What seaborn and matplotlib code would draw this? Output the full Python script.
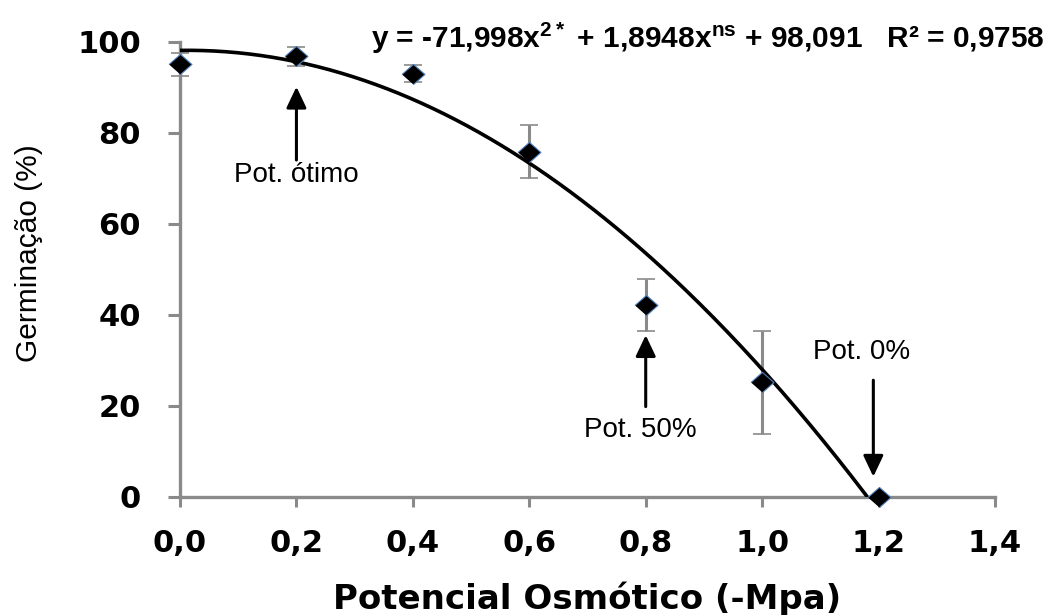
import numpy as np
import pandas as pd
import matplotlib
matplotlib.use("Agg")
import matplotlib.pyplot as plt
import seaborn as sns

# ---- data ----
potencial = [0.0, 0.2, 0.4, 0.6, 0.8, 1.0, 1.2]
germinacao = [95.0, 96.8, 93.0, 75.8, 42.1, 25.1, 0.0]
erro = [2.5, 2.1, 1.8, 5.85, 5.7, 11.3, 0.0]
coef = [-71.998, 1.8948, 98.091]  # quadratic fit shown in the equation
x_ticks = [0.0, 0.2, 0.4, 0.6, 0.8, 1.0, 1.2, 1.4]
x_labels = ["0,0", "0,2", "0,4", "0,6", "0,8", "1,0", "1,2", "1,4"]
y_ticks = [0, 20, 40, 60, 80, 100]

sns.set_theme(style="white")
plt.rcParams["mathtext.fontset"] = "custom"
plt.rcParams["mathtext.rm"] = "Liberation Sans:bold"

fig = plt.figure(figsize=(10.56, 6.15), dpi=100)
ax = fig.add_axes([180 / 1056, 1 - 496.7 / 615, 815 / 1056, 455 / 615])

df = pd.DataFrame({"x": potencial, "y": germinacao, "e": erro})

# fit curve from the equation coefficients, drawn until it reaches 0
root = max(r.real for r in np.roots(coef) if abs(r.imag) < 1e-9)
xc = np.linspace(0, root, 300)
curve = pd.DataFrame({"x": xc, "y": np.polyval(coef, xc)})

# error bars
eb = ax.errorbar(df["x"], df["y"], yerr=df["e"], fmt="none", ecolor="#8a8a8a",
                 elinewidth=2.2, capsize=6.5, capthick=1.2, zorder=2, clip_on=False)
for cl in eb[1]:
    cl.set_color("#222222")

sns.lineplot(data=curve, x="x", y="y", ax=ax, color="black", linewidth=2.6, zorder=3)

diamond = [(-1, 0), (0, 0.88), (1, 0), (0, -0.88)]
ax.plot(df["x"], df["y"], linestyle="none", marker=diamond, markersize=16.5,
        markerfacecolor="black", markeredgecolor="#4f81bd", markeredgewidth=0.8,
        zorder=4, clip_on=False)

ax.set_xlim(0, 1.4)
ax.set_ylim(0, 100)
ax.set_xticks(x_ticks)
ax.set_xticklabels(x_labels)
ax.set_yticks(y_ticks)

for lab in ax.get_xticklabels() + ax.get_yticklabels():
    lab.set_fontfamily("DejaVu Sans")
    lab.set_fontweight("bold")
    lab.set_fontsize(22)
    lab.set_color("black")

ax.tick_params(axis="x", direction="out", length=7, width=2.2, color="#8a8a8a", pad=16, bottom=True)
ax.tick_params(axis="y", direction="out", length=9, width=2.2, color="#8a8a8a", pad=19, left=True)

for s in ["top", "right"]:
    ax.spines[s].set_visible(False)
for s in ["left", "bottom"]:
    ax.spines[s].set_color("#8a8a8a")
    ax.spines[s].set_linewidth(2.4)

ax.set_xlabel("Potencial Osmótico (-Mpa)", fontfamily="DejaVu Sans", fontweight="bold",
              fontsize=24.5, labelpad=17.5, color="black")
ax.set_ylabel("Germinação (%)", fontfamily="Liberation Sans", fontsize=21.5, color="black")
ax.yaxis.set_label_coords(-0.168, 0.536)

# annotations
arrow = dict(arrowstyle="-|>,head_length=0.8,head_width=0.38", color="black",
             lw=2.2, mutation_scale=16, shrinkA=0, shrinkB=0)
ax.annotate("", xy=(0.2, 90.1), xytext=(0.2, 74.0), arrowprops=arrow, annotation_clip=False)
ax.annotate("", xy=(0.8, 35.5), xytext=(0.8, 19.8), arrowprops=arrow)
ax.annotate("", xy=(1.191, 4.4), xytext=(1.191, 25.6), arrowprops=arrow)

txt = dict(fontfamily="Liberation Sans", fontsize=20, color="black",
           ha="center", va="center")
ax.text(0.2, 70.6, "Pot. ótimo", **txt)
ax.text(0.79, 14.6, "Pot. 50%", **txt)
ax.text(1.171, 31.9, "Pot. 0%", **txt)

fig.text(1045 / 1056, 1 - 48 / 615,
         r"y = -71,998x$^{\mathrm{2*}}$ + 1,8948x$^{\mathrm{ns}}$ + 98,091   R² = 0,9758",
         ha="right", va="baseline", fontfamily="Liberation Sans", fontweight="bold",
         fontsize=21.5, color="black")

fig.savefig("out.png", dpi=100)
